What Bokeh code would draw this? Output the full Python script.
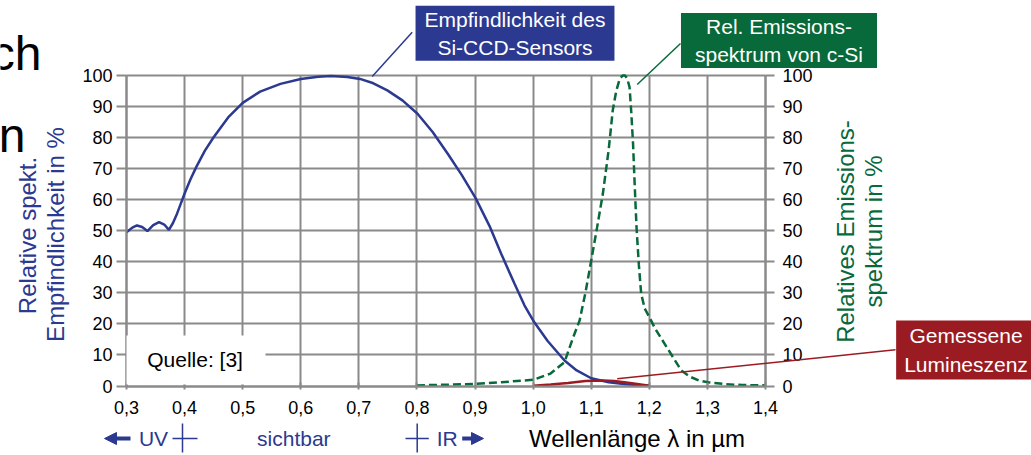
import math
from bokeh.plotting import figure
from bokeh.models import (Range1d, LinearAxis, FixedTicker, CustomJSTickFormatter,
                          Label, Arrow, NormalHead, BoxAnnotation, Grid)
from bokeh.embed import file_html
from bokeh.resources import INLINE

# ---------------- data ----------------
wl_ticks = [0.3, 0.4, 0.5, 0.6, 0.7, 0.8, 0.9, 1.0, 1.1, 1.2, 1.3, 1.4]
pct_ticks = [0, 10, 20, 30, 40, 50, 60, 70, 80, 90, 100]

# relative spectral sensitivity of the Si-CCD sensor (%)
sens_x = [0.300, 0.310, 0.318, 0.327, 0.336, 0.346, 0.356, 0.365, 0.373, 0.380,
          0.387, 0.393, 0.400, 0.410, 0.420, 0.435, 0.450, 0.475, 0.500, 0.530,
          0.565, 0.600, 0.630, 0.652, 0.680, 0.702, 0.725, 0.749, 0.775, 0.801,
          0.827, 0.853, 0.877, 0.901, 0.925, 0.945, 0.968, 0.985, 1.002, 1.025,
          1.054, 1.075, 1.100, 1.130, 1.160, 1.200]
sens_y = [49.5, 51.0, 51.7, 51.2, 49.9, 51.8, 52.8, 52.0, 50.3, 52.5,
          55.5, 58.5, 62.0, 66.5, 70.5, 75.8, 80.1, 86.5, 91.2, 94.8,
          97.3, 98.9, 99.6, 99.8, 99.5, 98.9, 97.5, 95.2, 92.0, 87.7,
          81.8, 74.8, 68.0, 60.5, 51.5, 42.6, 32.9, 26.0, 20.5, 14.5,
          8.2, 5.0, 2.5, 1.2, 0.6, 0.1]

# relative emission spectrum of c-Si (%)
emis_x = [0.80, 0.85, 0.90, 0.945, 1.00, 1.03, 1.054, 1.068, 1.080, 1.090,
          1.100, 1.110, 1.120, 1.130, 1.137, 1.143, 1.149, 1.154, 1.158, 1.162,
          1.166, 1.169, 1.172, 1.175, 1.178, 1.182, 1.186, 1.192, 1.200, 1.210,
          1.221, 1.240, 1.255, 1.270, 1.285, 1.301, 1.330, 1.360, 1.400]
emis_y = [0.2, 0.4, 0.7, 1.2, 2.0, 4.0, 7.7, 15.2, 21.1, 30.0,
          40.4, 51.0, 61.9, 76.0, 88.7, 95.0, 98.9, 100.0, 100.0, 99.0,
          96.2, 88.0, 78.0, 64.0, 51.0, 39.0, 29.7, 25.0, 22.2, 18.5,
          15.2, 9.5, 5.0, 3.0, 1.8, 1.2, 0.6, 0.3, 0.2]

# measured luminescence (%)
lum_x = [1.00, 1.03, 1.06, 1.09, 1.12, 1.14, 1.17, 1.20]
lum_y = [0.1, 0.5, 1.0, 1.6, 1.8, 1.6, 0.9, 0.1]

# ---------------- styling ----------------
BLUE = "#2b3990"
GREEN = "#08693a"
RED = "#9a1c22"
GRID = "#8a8a8a"
FONT = "Liberation Sans"

W, H = 1031, 455
X0, X1, Y0, Y1 = 0.3, 1.4, 0, 100
# where the chart box sits on the canvas (pixels)
PL, PR, PT, PB = 126, 765, 75, 385.5
KX = (PR - PL) / (X1 - X0)
KY = (PB - PT) / (Y1 - Y0)


def sx(px):
    return X0 + (px - PL) / KX


def sy(py):
    return Y0 + (PB - py) / KY


p = figure(width=W, height=H,
           x_range=Range1d(sx(0), sx(W)), y_range=Range1d(sy(H), sy(0)),
           output_backend="svg", toolbar_location=None,
           min_border_left=0, min_border_right=0, min_border_top=0,
           min_border_bottom=0)
p.outline_line_color = None
p.background_fill_color = "white"
p.border_fill_color = "white"

xt = FixedTicker(ticks=wl_ticks)
yt = FixedTicker(ticks=pct_ticks)

xax = p.xaxis[0]
yax = p.yaxis[0]
xax.ticker = xt
yax.ticker = yt
xax.formatter = CustomJSTickFormatter(code="return tick.toFixed(1).replace('.', ',');")
xax.fixed_location = Y0
xax.bounds = (X0, X1)
yax.fixed_location = X0
yax.bounds = (Y0, Y1)

right = LinearAxis(ticker=yt, fixed_location=X1, bounds=(Y0, Y1))
p.add_layout(right, "right")

xg, yg = p.xgrid[0], p.ygrid[0]
xg.ticker = xt
yg.ticker = yt
for g in (xg, yg):
    g.grid_line_color = GRID
    g.grid_line_width = 2
xg.bounds = (X0, X1)
yg.bounds = (Y0, Y1)
if "cross_bounds" in Grid.properties():
    xg.cross_bounds = (Y0, Y1)
    yg.cross_bounds = (X0, X1)
    long_ticks = False
else:
    xg.visible = False
    yg.visible = False
    long_ticks = True

for ax in (xax, yax, right):
    ax.axis_line_color = GRID
    ax.axis_line_width = 2
    ax.major_tick_line_color = GRID
    ax.major_tick_line_width = 2
    ax.minor_tick_line_color = None
    ax.major_label_text_font = FONT
    ax.major_label_text_font_size = "18px"
    ax.major_label_text_color = "black"

xax.major_tick_in = int(PB - PT) if long_ticks else 4
xax.major_tick_out = 3
xax.major_label_standoff = 12
yax.major_tick_in = int(PR - PL) if long_ticks else 0
yax.major_tick_out = 10
yax.major_label_standoff = 4
right.major_tick_in = 0
right.major_tick_out = 9
right.major_label_standoff = 8

# curves
p.line(emis_x, emis_y, line_color=GREEN, line_width=2.5, line_dash="8 4")
p.line(sens_x, sens_y, line_color=BLUE, line_width=2.5)
p.line(lum_x, lum_y, line_color=RED, line_width=2.5)


def lab(x, y, text, color="black", size="21px", align="center", baseline="middle",
        angle=0.0, **kw):
    p.add_layout(Label(x=x, y=y, text=text, text_color=color, text_font=FONT,
                       text_font_size=size, text_align=align, text_baseline=baseline,
                       angle=angle, **kw))


def seg(x0, y0, x1, y1, color, width=1.5, head=None):
    p.add_layout(Arrow(start=None, end=head, x_start=x0, y_start=y0, x_end=x1, y_end=y1,
                       line_color=color, line_width=width))


# source box
p.add_layout(BoxAnnotation(left=X0, right=sx(265), bottom=sy(384), top=sy(335),
                           fill_color="white", fill_alpha=1.0, line_color=None))
lab(sx(146.7), sy(358.8), "Quelle: [3]", align="left")

# axis titles
lab(sx(27), sy(235), "Relative spekt.", BLUE, "24px", angle=math.pi / 2)
lab(sx(55), sy(234), "Empfindlichkeit in %", BLUE, "24px", angle=math.pi / 2)
lab(sx(845), sy(231), "Relatives Emissions-", GREEN, "24px", angle=math.pi / 2)
lab(sx(873), sy(231), "spektrum in %", GREEN, "24px", angle=math.pi / 2)
lab(sx(636.5), sy(438), "Wellenlänge λ in µm", "black", "24px")

# spectral regions below the axis
lab(sx(153), sy(438), "UV", BLUE)
lab(sx(293.3), sy(438), "sichtbar", BLUE)
lab(sx(446.7), sy(438), "IR", BLUE)
seg(sx(182), sy(423), sx(182), sy(452), BLUE)
seg(sx(172), sy(438), sx(197), sy(438), BLUE)
seg(sx(416.7), sy(423), sx(416.7), sy(452), BLUE)
seg(sx(405), sy(438), sx(428.3), sy(438), BLUE)
seg(sx(130), sy(438), sx(104), sy(438), BLUE, 4,
    NormalHead(size=12, fill_color=BLUE, line_color=BLUE, line_width=1))
seg(sx(461.7), sy(438), sx(483), sy(438), BLUE, 4,
    NormalHead(size=12, fill_color=BLUE, line_color=BLUE, line_width=1))

# callout boxes and leader lines
seg(sx(411.7), sy(31.7), sx(371.7), sy(76), BLUE)
seg(sx(680), sy(43), sx(636.7), sy(84), GREEN)
seg(sx(616.7), sy(378.3), sx(895), sy(349.3), RED)

lab(sx(514.5), sy(32.7), "Empfindlichkeit des\nSi-CCD-Sensors", "white",
    background_fill_color=BLUE, padding=(9, 2), text_line_height=1.22)
lab(sx(778.5), sy(40), "Rel. Emissions-\nspektrum von c-Si", "white",
    background_fill_color=GREEN, padding=(14, 2), text_line_height=1.22)
lab(sx(965.5), sy(349.5), "Gemessene\nLumineszenz", "white",
    background_fill_color=RED, padding=(8, 4), text_line_height=1.22)

# cut-off slide text at the left edge
lab(sx(41), sy(53), "ch", "black", "48px", align="right", baseline="alphabetic")
lab(sx(25), sy(135), "n", "black", "48px", align="right", baseline="alphabetic")

open("out.html", "w").write(file_html(p, INLINE))
